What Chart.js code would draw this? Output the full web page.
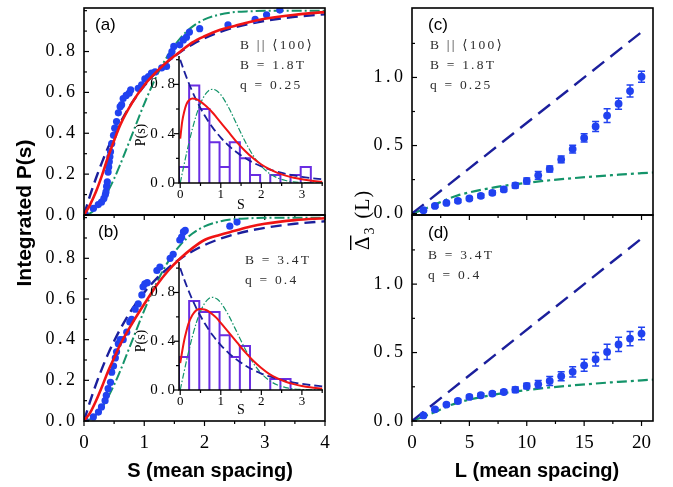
<!DOCTYPE html>
<html><head><meta charset="utf-8">
<script src="https://cdn.jsdelivr.net/npm/chart.js@4/dist/chart.umd.min.js"></script>
<style>
html,body{margin:0;padding:0;background:#fff;width:673px;height:487px;overflow:hidden}
#wrap{position:relative;width:673px;height:487px}
#wrap canvas{position:absolute;left:0;top:0}
</style></head>
<body><div id="wrap"></div>
<script>
const SERIF="'Liberation Serif','DejaVu Serif',serif";
const SANS="'Liberation Sans',Arial,sans-serif";
const BLUE='#2142f0', NAVY='#1b1f9c', RED='#f01414', GREEN='#14946a', PURPLE='#6a2de2';

// ---------------- data: integrated P(s) panels (a),(b) ----------------
const sCurve=[0,0.1,0.2,0.3,0.4,0.5,0.6,0.8,1.0,1.2,1.4,1.6,1.8,2.0,2.25,2.5,2.75,3.0,3.5,4.0];
const poissonCum=[0,0.095,0.181,0.259,0.330,0.393,0.451,0.551,0.632,0.699,0.753,0.798,0.835,0.865,0.895,0.918,0.936,0.950,0.970,0.982];
const goeCum=[0,0.008,0.031,0.068,0.118,0.178,0.246,0.395,0.544,0.677,0.785,0.866,0.922,0.957,0.981,0.993,0.997,0.999,1.0,1.0];
const fitCumA=[0,0.05,0.115,0.195,0.285,0.365,0.44,0.55,0.635,0.70,0.755,0.80,0.845,0.875,0.905,0.925,0.945,0.96,0.98,0.993];
const fitCumB=[0,0.04,0.10,0.17,0.245,0.31,0.375,0.48,0.575,0.665,0.74,0.80,0.85,0.89,0.915,0.935,0.955,0.97,0.988,0.997];
const sDataA=[0.017,0.155,0.237,0.29,0.33,0.355,0.365,0.375,0.387,0.40,0.41,0.42,0.43,0.44,0.46,0.49,0.51,0.54,0.57,0.60,0.625,0.65,0.70,0.75,0.775,0.90,0.957,1.01,1.07,1.12,1.18,1.29,1.37,1.43,1.46,1.49,1.59,1.65,1.70,1.75,1.92,2.39,2.84,3.03,3.25];
const cumDataA=[0.007,0.032,0.051,0.063,0.081,0.10,0.113,0.14,0.162,0.21,0.235,0.26,0.285,0.31,0.35,0.39,0.425,0.457,0.50,0.53,0.54,0.57,0.585,0.596,0.612,0.62,0.637,0.666,0.677,0.694,0.70,0.72,0.727,0.776,0.80,0.825,0.833,0.857,0.87,0.895,0.912,0.93,0.957,0.98,1.003];
const sDataB=[0.017,0.155,0.24,0.29,0.35,0.37,0.40,0.44,0.46,0.49,0.52,0.54,0.57,0.60,0.65,0.71,0.76,0.79,0.85,0.90,0.96,0.98,1.01,1.05,1.21,1.26,1.43,1.48,1.59,1.62,1.65,1.68,2.42,2.54];
const cumDataB=[0.003,0.02,0.044,0.069,0.10,0.126,0.159,0.19,0.24,0.27,0.31,0.34,0.38,0.40,0.40,0.437,0.487,0.50,0.55,0.576,0.62,0.66,0.675,0.68,0.74,0.757,0.80,0.82,0.89,0.904,0.93,0.937,0.958,0.978];

// ---------------- data: insets P(s) ----------------
const binEdges=[-0.03,0.22,0.47,0.72,0.97,1.22,1.47,1.72,1.97,2.22,2.47,2.72,2.97,3.22];
const histA=[0.13,0.79,0.60,0.33,0.13,0.33,0.20,0.065,0,0.065,0,0.065,0.13];
const histB=[0.27,0.73,0.64,0.64,0.45,0.27,0.36,0,0,0.09,0.09,0,0];
const sPdf=[0,0.1,0.2,0.3,0.4,0.5,0.6,0.7,0.8,0.9,1.0,1.2,1.4,1.6,1.8,2.0,2.2,2.4,2.6,2.8,3.0,3.2,3.5];
const poissonPdf=[1,0.905,0.819,0.741,0.670,0.607,0.549,0.497,0.449,0.407,0.368,0.301,0.247,0.202,0.165,0.135,0.111,0.091,0.074,0.061,0.050,0.041,0.030];
const goePdf=[0,0.156,0.305,0.439,0.554,0.645,0.710,0.749,0.760,0.748,0.716,0.608,0.472,0.337,0.222,0.136,0.077,0.041,0.020,0.009,0.004,0.002,0.000];
const sFitPdf=[0,0.05,0.1,0.15,0.2,0.3,0.4,0.5,0.6,0.7,0.8,0.9,1.0,1.2,1.4,1.6,1.8,2.0,2.2,2.4,2.6,2.8,3.0,3.2,3.5];
const fitPdfA=[0.36,0.50,0.58,0.635,0.665,0.685,0.68,0.66,0.635,0.605,0.57,0.53,0.49,0.41,0.33,0.26,0.20,0.15,0.112,0.082,0.06,0.042,0.03,0.02,0.01];
const fitPdfB=[0.22,0.32,0.41,0.48,0.54,0.615,0.655,0.665,0.66,0.645,0.62,0.59,0.55,0.47,0.39,0.31,0.24,0.18,0.13,0.095,0.068,0.048,0.033,0.022,0.012];

// ---------------- data: Delta_3 panels (c),(d) ----------------
const Lvals=[1,2,3,4,5,6,7,8,9,10,11,12,13,14,15,16,17,18,19,20];
const delta3C=[0.025,0.057,0.079,0.094,0.111,0.131,0.153,0.178,0.207,0.24,0.281,0.328,0.398,0.474,0.556,0.64,0.72,0.807,0.90,1.005];
const errC=[0.01,0.01,0.01,0.012,0.012,0.014,0.015,0.016,0.018,0.022,0.028,0.022,0.025,0.028,0.03,0.037,0.05,0.04,0.044,0.04];
const delta3D=[0.041,0.085,0.12,0.146,0.176,0.188,0.20,0.212,0.229,0.256,0.268,0.293,0.327,0.359,0.407,0.451,0.505,0.559,0.602,0.639];
const errD=[0.01,0.01,0.01,0.012,0.012,0.012,0.014,0.015,0.02,0.02,0.027,0.033,0.033,0.037,0.044,0.049,0.056,0.052,0.052,0.046];
const Lpoisson=[0,20];
const poissonD3=[0,1.333];
const Lgoe=[0,1,2,3,4,5,6,7,8,10,12,14,16,18,20,21];
const goeD3=[0,0.032,0.066,0.104,0.134,0.156,0.175,0.19,0.204,0.226,0.245,0.26,0.274,0.286,0.297,0.302];

// ---------------- tick values ----------------
const ticksS=[0,1,2,3,4], minorS=[0.5,1.5,2.5,3.5];
const ticksIP=[0,0.2,0.4,0.6,0.8], minorIP=[0.1,0.3,0.5,0.7,0.9,1.0];
const ticksL=[0,5,10,15,20], minorL=[2.5,7.5,12.5,17.5];
const ticksD3=[0,0.5,1.0], minorD3=[0.25,0.75,1.25];
const ticksInS=[0,1,2,3], minorInS=[0.5,1.5,2.5,3.5];
const ticksInP=[0,0.4,0.8], minorInP=[0.2,0.6,1.0];

// ---------------- helpers ----------------
const W=673,H=487;
class SpacedLinear extends Chart.LinearScale {
  drawLabels(ca){
    const ctx=this.ctx; ctx.save();
    const ls=this.options.ls||0;
    try{ctx.letterSpacing=ls+'px';}catch(e){}
    super.drawLabels(ca); ctx.restore();
  }
}
SpacedLinear.id='spacedLinear';
SpacedLinear.defaults=Chart.LinearScale.defaults;
Chart.register(SpacedLinear);

const pts=(xs,ys)=>xs.map((x,i)=>({x:x,y:ys[i]}));
function histPath(edges,h){
  const out=[];
  h.forEach((v,i)=>{ if(v>0){ out.push({x:edges[i],y:0},{x:edges[i],y:v},{x:edges[i+1],y:v},{x:edges[i+1],y:0},{x:edges[i+1],y:null}); } });
  return out;
}
function axis(pos,min,max,tickVals,o){
  const size=o.box;
  return {type:'spacedLinear',axis:(pos==='bottom'?'x':'y'),position:pos,min:min,max:max,offset:false,ls:o.ls||0,
    grid:{display:false,drawTicks:false},border:{display:false},
    afterBuildTicks:s=>{s.ticks=tickVals.map(v=>({value:v}));},
    afterFit:s=>{ if(pos==='bottom') s.height=size; else s.width=size; s.paddingLeft=0;s.paddingRight=0;s.paddingTop=0;s.paddingBottom=0; },
    ticks:{display:o.show!==false,padding:o.pad||0,autoSkip:false,maxRotation:0,minRotation:0,color:'#000',
      font:{family:SERIF,size:o.size||16},callback:o.fmt||(v=>String(v))}};
}
const frame={
  id:'frame',
  afterDraw(chart,args,o){
    const ctx=chart.ctx,a=chart.chartArea,xs=chart.scales.x,ys=chart.scales.y;
    ctx.save(); try{ctx.letterSpacing='0px';}catch(e){}
    (o.errors||[]).forEach(eb=>{
      const ds=chart.data.datasets[eb.ds];
      ctx.strokeStyle=eb.color; ctx.lineWidth=1.5;
      ds.data.forEach((p,i)=>{
        const px=xs.getPixelForValue(p.x), y1=ys.getPixelForValue(p.y-eb.err[i]), y2=ys.getPixelForValue(p.y+eb.err[i]);
        ctx.beginPath(); ctx.moveTo(px,y1); ctx.lineTo(px,y2);
        ctx.moveTo(px-3.5,y1); ctx.lineTo(px+3.5,y1); ctx.moveTo(px-3.5,y2); ctx.lineTo(px+3.5,y2); ctx.stroke();
      });
    });
    ctx.strokeStyle='#000'; ctx.lineWidth=o.lw||1.6;
    if(o.box){ ctx.strokeRect(a.left,a.top,a.right-a.left,a.bottom-a.top); }
    else { ctx.beginPath(); ctx.moveTo(a.left,a.top); ctx.lineTo(a.left,a.bottom); ctx.lineTo(a.right,a.bottom); ctx.stroke(); }
    ctx.lineWidth=1.2;
    const tk=(vals,len,isX,dir)=>{ vals.forEach(v=>{ ctx.beginPath();
      if(isX){ const p=xs.getPixelForValue(v); ctx.moveTo(p,a.bottom); ctx.lineTo(p,a.bottom+dir*len); }
      else { const p=ys.getPixelForValue(v); ctx.moveTo(a.left,p); ctx.lineTo(a.left+dir*len,p); }
      ctx.stroke(); }); };
    if(o.xt){ tk(o.xt.major,5,true,o.xt.dir); tk(o.xt.minor,3,true,o.xt.dir); }
    if(o.yt){ tk(o.yt.major,5,false,o.yt.dir); tk(o.yt.minor,3,false,o.yt.dir); }
    (o.texts||[]).forEach(it=>{
      ctx.save();
      try{ctx.letterSpacing=(it.ls||0)+'px';}catch(e){}
      ctx.fillStyle=it.color||'#000';
      ctx.translate(it.x,it.y); if(it.rot) ctx.rotate(it.rot);
      if(it.kind==='delta'){
        ctx.textAlign='left'; ctx.textBaseline='alphabetic';
        ctx.font='21px '+SERIF; ctx.fillText('\u0394',0,0);
        const w=ctx.measureText('\u0394').width;
        ctx.fillRect(0,-19,w,1.4);
        ctx.font='14px '+SERIF; ctx.fillText('3',w+1,5);
        const w3=ctx.measureText('3').width;
        ctx.font='20px '+SERIF; ctx.fillText('(L)',w+w3+9,0);
      } else {
        ctx.font=it.font; ctx.textAlign=it.align||'left'; ctx.textBaseline=it.base||'middle';
        ctx.fillText(it.t,0,0);
      }
      ctx.restore();
    });
    ctx.restore();
  }
};
function make(area,scales,datasets,frameOpts){
  const c=document.createElement('canvas'); c.width=W; c.height=H; c.style.width=W+'px'; c.style.height=H+'px';
  document.getElementById('wrap').appendChild(c);
  return new Chart(c,{type:'line',data:{datasets:datasets},plugins:[frame],
    options:{responsive:false,animation:false,devicePixelRatio:1,events:[],
      layout:{padding:{left:area.l-area.wy,top:area.t,right:W-area.r,bottom:H-area.b-area.hx}},
      plugins:{legend:{display:false},tooltip:{enabled:false},frame:frameOpts},
      scales:scales}});
}
const curve=(data,color,width,dash,order)=>({data:data,borderColor:color,borderWidth:width,borderDash:dash||[],pointRadius:0,
  cubicInterpolationMode:'monotone',fill:false,order:order});
const dots=(data,r,order)=>({data:data,showLine:false,pointRadius:r,pointBackgroundColor:BLUE,pointBorderWidth:0,borderColor:BLUE,order:order});

const fmt1=v=>v.toFixed(1);
const ann=(t,x,y)=>({t:t,x:x,y:y,font:'13.5px '+SERIF,color:'#2e2e2e',ls:2.2});

// ---------------- panel (a) ----------------
make({l:84,t:8,r:325,b:215,wy:60,hx:40},
  {x:axis('bottom',0,4,ticksS,{show:false,box:40}), y:axis('left',0,1.013,ticksIP,{size:18,pad:5.5,ls:3.5,fmt:fmt1,box:60})},
  [curve(pts(sCurve,fitCumA),RED,2.6,[],0), dots(pts(sDataA,cumDataA),3.6,1),
   curve(pts(sCurve,poissonCum),NAVY,2.4,[11,6],2), curve(pts(sCurve,goeCum),GREEN,2,[10,3,2,3],3)],
  {box:true,xt:{major:ticksS,minor:minorS,dir:1},yt:{major:ticksIP,minor:minorIP,dir:1},
   texts:[{t:'(a)',x:95,y:25,font:'17px '+SANS},
     ann('B || \u27E8100\u27E9',240,45),ann('B = 1.8T',240,65),ann('q = 0.25',240,85),
     {t:'Integrated P(s)',x:31,y:213,rot:-Math.PI/2,font:'bold 21px '+SANS,align:'center',base:'alphabetic'}]});

// ---------------- panel (b) ----------------
make({l:84,t:215,r:325,b:421,wy:60,hx:40},
  {x:axis('bottom',0,4,ticksS,{size:19,pad:11,ls:0,box:40}), y:axis('left',0,1.013,ticksIP,{size:18,pad:5.5,ls:3.5,fmt:fmt1,box:60})},
  [curve(pts(sCurve,fitCumB),RED,2.6,[],0), dots(pts(sDataB,cumDataB),3.6,1),
   curve(pts(sCurve,poissonCum),NAVY,2.4,[11,6],2), curve(pts(sCurve,goeCum),GREEN,2,[10,3,2,3],3)],
  {box:true,xt:{major:ticksS,minor:minorS,dir:1},yt:{major:ticksIP,minor:minorIP,dir:1},
   texts:[{t:'(b)',x:98,y:232,font:'17px '+SANS},
     ann('B = 3.4T',245,260),ann('q = 0.4',245,280),
     {t:'S (mean spacing)',x:210,y:471,font:'bold 20px '+SANS,align:'center'}]});

// ---------------- panel (c) ----------------
make({l:412,t:8,r:653,b:215,wy:60,hx:40},
  {x:axis('bottom',0,21,ticksL,{show:false,box:40}), y:axis('left',-0.01,1.51,ticksD3,{size:18,pad:5.5,ls:3.5,fmt:fmt1,box:60})},
  [dots(pts(Lvals,delta3C),3.9,0), curve(pts(Lpoisson,poissonD3),NAVY,2.4,[15,8],1), curve(pts(Lgoe,goeD3),GREEN,2.2,[10,4,3,4],2)],
  {box:true,xt:{major:ticksL,minor:minorL,dir:1},yt:{major:ticksD3,minor:minorD3,dir:1},
   errors:[{ds:0,err:errC,color:BLUE}],
   texts:[{t:'(c)',x:428,y:25,font:'17px '+SANS},
     ann('B || \u27E8100\u27E9',430,45),ann('B = 1.8T',430,65),ann('q = 0.25',430,85),
     {kind:'delta',x:369,y:250,rot:-Math.PI/2,ls:1}]});

// ---------------- panel (d) ----------------
make({l:412,t:215,r:653,b:421,wy:60,hx:40},
  {x:axis('bottom',0,21,ticksL,{size:19,pad:11,ls:0,box:40}), y:axis('left',0,1.505,ticksD3,{size:18,pad:5.5,ls:3.5,fmt:fmt1,box:60})},
  [dots(pts(Lvals,delta3D),3.9,0), curve(pts(Lpoisson,poissonD3),NAVY,2.4,[15,8],1), curve(pts(Lgoe,goeD3),GREEN,2.2,[10,4,3,4],2)],
  {box:true,xt:{major:ticksL,minor:minorL,dir:1},yt:{major:ticksD3,minor:minorD3,dir:1},
   errors:[{ds:0,err:errD,color:BLUE}],
   texts:[{t:'(d)',x:428,y:233,font:'17px '+SANS},
     ann('B = 3.4T',428,255),ann('q = 0.4',428,275),
     {t:'L (mean spacing)',x:537,y:471,font:'bold 20px '+SANS,align:'center'}]});

// ---------------- inset (a) ----------------
make({l:179,t:56,r:323,b:183,wy:40,hx:20},
  {x:axis('bottom',-0.03,3.52,ticksInS,{size:13,pad:3.5,ls:0,box:20}), y:axis('left',0,1.03,ticksInP,{size:15,pad:1,ls:3,fmt:fmt1,box:40})},
  [curve(pts(sFitPdf,fitPdfA),RED,2,[],0), curve(pts(sPdf,poissonPdf),NAVY,1.8,[8,4],1),
   curve(pts(sPdf,goePdf),GREEN,1.2,[6,2,1.5,2],2),
   {data:histPath(binEdges,histA),borderColor:PURPLE,borderWidth:2,pointRadius:0,tension:0,borderJoinStyle:'miter',fill:false,order:3}],
  {box:false,lw:1.5,xt:{major:ticksInS,minor:minorInS,dir:1},yt:{major:ticksInP,minor:minorInP,dir:-1},
   texts:[{t:'S',x:241,y:205,font:'14px '+SERIF,align:'center'},
     {t:'P(s)',x:141,y:135,rot:-Math.PI/2,font:'14px '+SERIF,align:'center'}]});

// ---------------- inset (b) ----------------
make({l:179,t:262,r:323,b:390,wy:40,hx:20},
  {x:axis('bottom',-0.03,3.52,ticksInS,{size:13,pad:3.5,ls:0,box:20}), y:axis('left',0,1.05,ticksInP,{size:15,pad:1,ls:3,fmt:fmt1,box:40})},
  [curve(pts(sFitPdf,fitPdfB),RED,2,[],0), curve(pts(sPdf,poissonPdf),NAVY,1.8,[8,4],1),
   curve(pts(sPdf,goePdf),GREEN,1.2,[6,2,1.5,2],2),
   {data:histPath(binEdges,histB),borderColor:PURPLE,borderWidth:2,pointRadius:0,tension:0,borderJoinStyle:'miter',fill:false,order:3}],
  {box:false,lw:1.5,xt:{major:ticksInS,minor:minorInS,dir:1},yt:{major:ticksInP,minor:minorInP,dir:-1},
   texts:[{t:'S',x:241,y:410,font:'14px '+SERIF,align:'center'},
     {t:'P(s)',x:141,y:341,rot:-Math.PI/2,font:'14px '+SERIF,align:'center'}]});
</script>
</body></html>
